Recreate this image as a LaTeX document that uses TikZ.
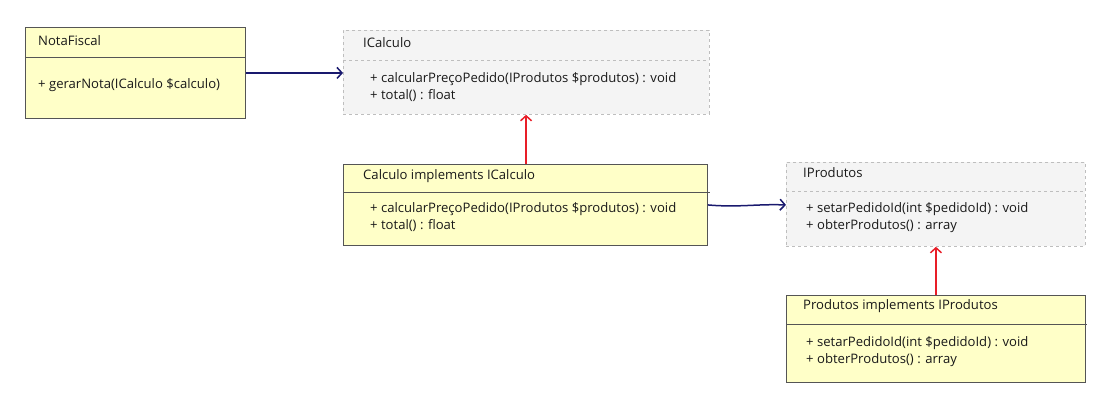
\documentclass[tikz,border=0pt]{standalone}
\usepackage{fontspec}
\setmainfont{Open Sans}
\usetikzlibrary{arrows.meta,calc}
\definecolor{cyellow}{RGB}{255,255,200}
\definecolor{cgray}{RGB}{244,244,244}
\definecolor{cborder}{RGB}{85,85,85}
\definecolor{cdash}{RGB}{190,190,190}
\definecolor{cnavy}{RGB}{25,25,110}
\definecolor{cred}{RGB}{232,30,40}
\begin{document}
\begin{tikzpicture}[x=1pt,y=-1pt,
  cls/.style={draw=cborder,fill=cyellow,line width=0.9pt,anchor=north west,inner sep=0pt},
  ifc/.style={draw=cdash,fill=cgray,dashed,line width=0.8pt,anchor=north west,inner sep=0pt},
  sepc/.style={draw=cborder,line width=0.9pt},
  sepi/.style={draw=cdash,dashed,line width=0.8pt},
  txt/.style={anchor=west,inner sep=0pt,font=\fontsize{13.1}{15}\selectfont,text=black!90},
  uses/.style={draw=cnavy,line width=1.5pt,-{Straight Barb[length=5pt,width=11pt]}},
  impl/.style={draw=cred,line width=1.5pt,-{Straight Barb[length=5pt,width=11pt]}}]
\useasboundingbox (0,0) rectangle (1100,406);
% NotaFiscal
\node[cls,minimum width=220pt,minimum height=91pt] (nf) at (25,27) {};
\draw[sepc] (25,57) -- (245,57);
\node[txt] (nft) at (38,41) {NotaFiscal};
\node[txt] (nfm) at (38,85) {+ gerarNota(ICalculo \$calculo)};
% ICalculo
\node[ifc,minimum width=366pt,minimum height=84pt] (ic) at (343,30) {};
\draw[sepi] (343,60) -- (709,60);
\node[txt] (ict) at (363,43) {ICalculo};
\node[txt] (icm1) at (370,79) {+ calcularPreçoPedido(IProdutos \$produtos) : void};
\node[txt] (icm2) at (370,96) {+ total() : float};
% Calculo
\node[cls,minimum width=364pt,minimum height=81pt] (ca) at (343,164) {};
\draw[sepc] (343,192) -- (710,192);
\node[txt] (cat) at (363,176) {Calculo implements ICalculo};
\node[txt] (cam1) at (370,209) {+ calcularPreçoPedido(IProdutos \$produtos) : void};
\node[txt] (cam2) at (370,226) {+ total() : float};
% IProdutos
\node[ifc,minimum width=299pt,minimum height=84pt] (ip) at (786,162) {};
\draw[sepi] (786,191) -- (1085,191);
\node[txt] (ipt) at (803,173) {IProdutos};
\node[txt] (ipm1) at (806,209) {+ setarPedidoId(int \$pedidoId) : void};
\node[txt] (ipm2) at (806,226) {+ obterProdutos() : array};
% Produtos
\node[cls,minimum width=299pt,minimum height=87pt] (pr) at (786,295) {};
\draw[sepc] (786,324) -- (1087,324);
\node[txt] (prt) at (803,306) {Produtos implements IProdutos};
\node[txt] (prm1) at (806,343) {+ setarPedidoId(int \$pedidoId) : void};
\node[txt] (prm2) at (806,360) {+ obterProdutos() : array};
% connectors
\coordinate (caTop) at ($(ca.north)+(0.6,0)$);
\draw[uses] (nf.east) -- (nf.east -| ic.west);
\draw[impl] (caTop) -- (caTop |- ic.south);
\draw[uses] (ca.east) to[out=-5,in=178] (ca.east -| ip.west);
\draw[impl] (pr.north) -- (pr.north |- ip.south);
\end{tikzpicture}
\end{document}
